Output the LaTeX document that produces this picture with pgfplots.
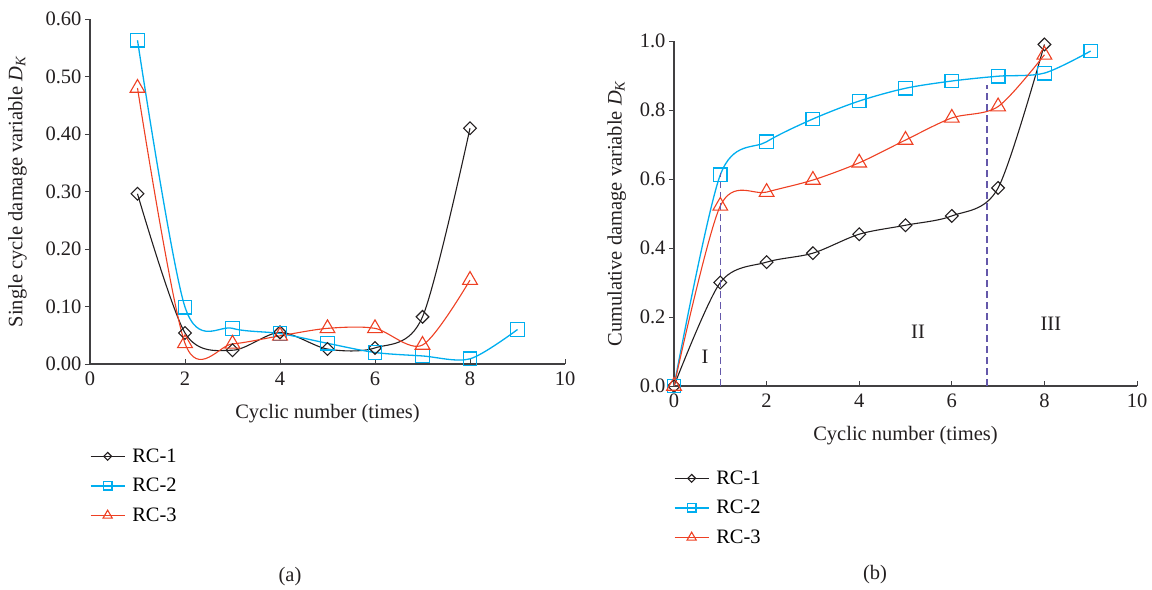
\documentclass[border=0pt]{standalone}
\usepackage{fontspec}
\setmainfont{Liberation Serif}
\usepackage{pgfplots}
\pgfplotsset{compat=1.18}
\definecolor{cblk}{RGB}{35,31,32}
\definecolor{cblue}{RGB}{0,174,239}
\definecolor{cred}{RGB}{238,64,35}
\definecolor{cpurp}{RGB}{100,88,170}
\definecolor{caxis}{RGB}{65,64,66}
\newcommand{\fs}{\fontsize{20.5bp}{24bp}\selectfont}
\pgfplotsset{
 legend image code/.code={\draw[mark repeat=2,mark phase=2,#1,every mark/.append style={scale=0.62}] plot coordinates {(0bp,0bp) (17bp,0bp) (34bp,0bp)};},
 myaxis/.style={
  scale only axis, axis lines=left, axis line style={caxis, line width=1.3bp, -},
  xmin=0, xmax=10, xtick={0,2,...,10},
  xtick align=inside, ytick align=outside,
  major tick length=5bp,
  tick style={caxis, line width=1bp},
  tick label style={font=\fs, text=cblk},
  xticklabel style={yshift=-4bp},
  label style={font=\fs, text=cblk},
  xlabel style={yshift=-12bp},
  /pgf/number format/assume math mode=true,
  legend style={draw=none, fill=none, font=\fs, row sep=10.5bp, column sep=5bp, anchor=north west, inner sep=0pt, outer sep=0pt},
  legend cell align=left,
  clip=false,
 },
 s1/.style={cblk, line width=1.1bp, smooth, mark=square, mark size=4.5bp, mark options={rotate=45, fill=white, solid, line width=1.1bp}},
 s2/.style={cblue, line width=1.3bp, smooth, mark=square, mark size=6.8bp, mark options={fill=white, solid, line width=1.3bp}},
 s3/.style={cred, line width=1.1bp, smooth, mark=triangle, mark size=8.5bp, mark options={fill=white, solid, line width=1.1bp}},
}
\begin{document}
\begin{tikzpicture}
\useasboundingbox (0,0) rectangle (1152bp,-590bp);
% left panel
\begin{axis}[myaxis, at={(90bp,-364bp)}, anchor=south west, width=475bp, height=345bp,
  ymin=0, ymax=0.6, ytick={0,0.1,...,0.6},
  yticklabel style={/pgf/number format/.cd, fixed, fixed zerofill, precision=2},
  xlabel={Cyclic number (times)},
  ylabel={Single cycle damage variable \textit{D}\textsubscript{\textit{K}}},
  ylabel shift=12bp,
  legend style={at={(0,-0.24)}}]
\addplot[s1] coordinates {(1,0.296)(2,0.054)(3,0.024)(4,0.055)(5,0.026)(6,0.028)(7,0.082)(8,0.41)};
\addlegendentry{RC-1}
\addplot[s2] coordinates {(1,0.563)(2,0.099)(3,0.062)(4,0.053)(5,0.036)(6,0.02)(7,0.014)(8,0.009)(9,0.06)};
\addlegendentry{RC-2}
\addplot[s3] coordinates {(1,0.48)(2,0.036)(3,0.035)(4,0.049)(5,0.062)(6,0.062)(7,0.033)(8,0.146)};
\addlegendentry{RC-3}
\end{axis}
% right panel
\begin{axis}[myaxis, at={(674bp,-386bp)}, anchor=south west, width=463bp, height=345bp,
  ymin=0, ymax=1, ytick={0,0.2,...,1.0},
  yticklabel style={/pgf/number format/.cd, fixed, fixed zerofill, precision=1},
  xlabel={Cyclic number (times)},
  ylabel={Cumulative damage variable \textit{D}\textsubscript{\textit{K}}},
  ylabel shift=7bp,
  legend style={at={(0,-0.24)}}]
\addplot[s1] coordinates {(0,0)(1,0.30)(2,0.359)(3,0.385)(4,0.44)(5,0.466)(6,0.493)(7,0.574)(8,0.99)};
\addlegendentry{RC-1}
\addplot[s2] coordinates {(0,0)(1,0.612)(2,0.708)(3,0.774)(4,0.826)(5,0.863)(6,0.884)(7,0.898)(8,0.907)(9,0.971)};
\addlegendentry{RC-2}
\addplot[s3] coordinates {(0,0)(1,0.522)(2,0.562)(3,0.597)(4,0.647)(5,0.713)(6,0.777)(7,0.81)(8,0.96)};
\addlegendentry{RC-3}
\addplot[cpurp, line width=1.4bp, dash pattern=on 7bp off 4bp, forget plot] coordinates {(1,0)(1,0.617)};
\addplot[cpurp, line width=1.4bp, dash pattern=on 7bp off 4bp, forget plot] coordinates {(6.76,0)(6.76,0.872)};
\node[font=\fs, text=cblk] at (axis cs:0.67,0.085) {I};
\node[font=\fs, text=cblk] at (axis cs:5.27,0.157) {II};
\node[font=\fs, text=cblk] at (axis cs:8.14,0.18) {III};
\end{axis}
\node[font=\fs, text=cblk] at (290bp,-577bp) {(a)};
\node[font=\fs, text=cblk] at (875bp,-575bp) {(b)};
\end{tikzpicture}
\end{document}
